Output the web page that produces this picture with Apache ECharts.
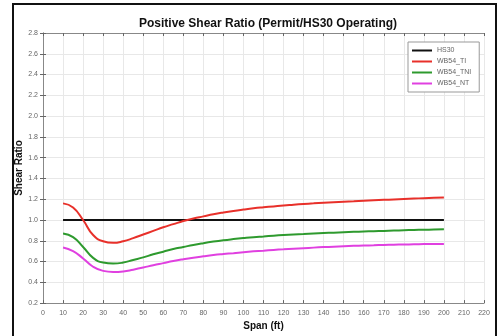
<!DOCTYPE html>
<html>
<head>
<meta charset="utf-8">
<script src="https://cdn.jsdelivr.net/npm/echarts@6/dist/echarts.min.js"></script>
<style>
  html, body { margin: 0; padding: 0; background: #fff; }
  #chart { width: 498px; height: 336px; }
</style>
</head>
<body>
<div id="chart"></div>
<script>
// span (ft), every 5 ft from 10 to 200
var spans = [10, 15, 20, 25, 30, 35, 40, 45, 50, 55, 60, 65, 70, 75, 80, 85, 90, 95, 100, 105,
  110, 115, 120, 125, 130, 135, 140, 145, 150, 155, 160, 165, 170, 175, 180, 185, 190, 195, 200];
var hs30 = spans.map(function () { return 1.0; });
var wb54TI = [1.16, 1.12, 1.00, 0.855, 0.795, 0.78, 0.795, 0.825, 0.86, 0.895, 0.93, 0.96, 0.99, 1.015, 1.035, 1.055, 1.072, 1.087, 1.10, 1.112,
  1.122, 1.131, 1.14, 1.147, 1.154, 1.16, 1.166, 1.171, 1.176, 1.181, 1.186, 1.19, 1.194, 1.198, 1.202, 1.206, 1.21, 1.213, 1.217];
var wb54TNI = [0.87, 0.835, 0.74, 0.635, 0.59, 0.58, 0.59, 0.615, 0.64, 0.67, 0.695, 0.72, 0.74, 0.76, 0.777, 0.792, 0.805, 0.816, 0.826, 0.835,
  0.842, 0.849, 0.855, 0.86, 0.865, 0.87, 0.874, 0.878, 0.882, 0.886, 0.889, 0.892, 0.895, 0.898, 0.901, 0.904, 0.906, 0.908, 0.91];
var wb54NT = [0.735, 0.70, 0.63, 0.55, 0.51, 0.50, 0.505, 0.522, 0.542, 0.565, 0.585, 0.605, 0.622, 0.637, 0.65, 0.662, 0.672, 0.681, 0.69, 0.698,
  0.705, 0.712, 0.718, 0.724, 0.729, 0.734, 0.739, 0.743, 0.747, 0.751, 0.754, 0.757, 0.76, 0.762, 0.764, 0.766, 0.768, 0.769, 0.77];
var seriesNames = ['HS30', 'WB54_TI', 'WB54_TNI', 'WB54_NT'];
var seriesColors = ['#111111', '#e8302a', '#2e9a2e', '#e040e0'];

function pairs(ys) {
  return spans.map(function (s, i) { return [s, ys[i]]; });
}

var myChart = echarts.init(document.getElementById('chart'));
var font = 'Liberation Sans';

// matlab style box: ticks inside on all four sides
function boxAxis(pos, isX) {
  var a = {
    type: 'value',
    position: pos,
    axisLine: { show: true, lineStyle: { color: '#888', width: 1 } },
    axisTick: { show: true, inside: true, length: 3, lineStyle: { color: '#666' } },
    axisLabel: { show: false },
    splitLine: { show: false }
  };
  if (isX) { a.min = 0; a.max = 220; a.interval = 10; }
  else { a.min = 0.2; a.max = 2.8; a.interval = 0.2; }
  return a;
}

var allData = [hs30, wb54TI, wb54TNI, wb54NT];
var series = allData.map(function (d, i) {
  return {
    name: seriesNames[i],
    type: 'line',
    data: pairs(d),
    smooth: true,
    symbol: 'none',
    lineStyle: { color: seriesColors[i], width: 2 },
    itemStyle: { color: seriesColors[i] }
  };
});

var option = {
  backgroundColor: '#fff',
  animation: false,
  title: {
    text: 'Positive Shear Ratio (Permit/HS30 Operating)',
    left: 263,
    textAlign: 'center',
    top: 13,
    textStyle: { fontFamily: font, fontWeight: 'bold', fontSize: 12, color: '#111' }
  },
  grid: { left: 43, right: 14, top: 33, bottom: 28, show: false },
  legend: {
    data: seriesNames,
    orient: 'vertical',
    left: 408,
    top: 42,
    itemWidth: 20,
    itemHeight: 2,
    itemGap: 4,
    icon: 'rect',
    padding: [5, 8, 5, 4],
    borderColor: '#999',
    borderWidth: 1,
    backgroundColor: '#fff',
    textStyle: { fontFamily: font, fontSize: 7, color: '#666' }
  },
  xAxis: [{
    type: 'value',
    min: 0,
    max: 220,
    interval: 10,
    name: 'Span (ft)',
    nameLocation: 'middle',
    nameGap: 13,
    nameTextStyle: { fontFamily: font, fontWeight: 'bold', fontSize: 10, color: '#111' },
    axisLine: { show: true, lineStyle: { color: '#888' } },
    axisTick: { show: true, inside: true, length: 3, lineStyle: { color: '#666' } },
    axisLabel: { fontFamily: font, fontSize: 7, color: '#666', margin: 6 },
    splitLine: { show: true, lineStyle: { color: '#e8e8e8', width: 1 } }
  }, boxAxis('top', true)],
  yAxis: [{
    type: 'value',
    min: 0.2,
    max: 2.8,
    interval: 0.2,
    name: 'Shear Ratio',
    nameLocation: 'middle',
    nameGap: 19,
    nameMoveOverlap: false,
    nameTextStyle: { fontFamily: font, fontWeight: 'bold', fontSize: 10, color: '#111' },
    axisLine: { show: true, lineStyle: { color: '#888' } },
    axisTick: { show: true, inside: true, length: 3, lineStyle: { color: '#666' } },
    axisLabel: {
      fontFamily: font, fontSize: 7, color: '#666', margin: 5,
      formatter: function (v) { return v.toFixed(1); }
    },
    splitLine: { show: true, lineStyle: { color: '#e8e8e8', width: 1 } }
  }, boxAxis('right', false)],
  graphic: [{
    type: 'rect',
    shape: { x: 13, y: 4, width: 483, height: 345 },
    style: { fill: 'none', stroke: '#111', lineWidth: 2 },
    silent: true,
    z: 100
  }],
  series: series
};
myChart.setOption(option);
</script>
</body>
</html>
